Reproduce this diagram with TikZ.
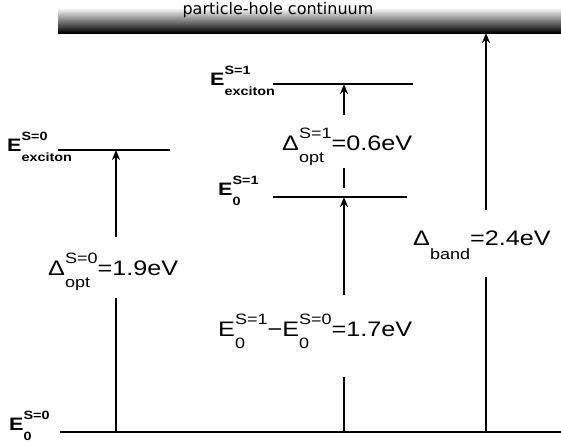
\documentclass[tikz,border=0pt]{standalone}
\usepackage{fontspec}
\setmainfont[FakeStretch=1.2]{Liberation Sans}
\newfontfamily\titfont{DejaVu Sans}
\usetikzlibrary{arrows.meta}
\newdimen\sswd
% #1 size, #2 raise, #3 lower, #4 sup, #5 sub
\newcommand\lvlss[5]{%
  \setbox0=\hbox{#1#4}\setbox2=\hbox{#1#5}%
  \sswd=\wd0 \ifdim\wd2>\sswd \sswd=\wd2 \fi
  \rlap{\raise #2\box0}\rlap{\lower #3\box2}\kern\sswd}
\newcommand\mainsz{\fontsize{21}{21}\selectfont}
\newcommand\subsz{\fontsize{15}{15}\selectfont}
\newcommand\bmainsz{\bfseries\fontsize{18}{18}\selectfont}
\newcommand\bsubsz{\bfseries\fontsize{12}{12}\selectfont}
\begin{document}
\begin{tikzpicture}[x=1pt,y=-1pt,
  lvl/.style={line width=2pt},
  seg/.style={line width=2pt},
  arr/.style={line width=2pt,-{Stealth[length=10pt,width=8pt,inset=3pt]}},
  lab/.style={inner sep=0pt, anchor=base west}]
\useasboundingbox (0,0) rectangle (561,445);
\fill[white] (0,0) rectangle (561,445);
% continuum bar
\shade[top color=black!5, middle color=black!50, bottom color=black] (58,9) rectangle (561,33);
\node[font=\titfont\fontsize{16}{16}\selectfont, inner sep=0pt, anchor=base] (title) at (278,14.5) {particle-hole continuum};
% levels
\coordinate (gL) at (60,432); \coordinate (gR) at (561,432);
\draw[lvl] (gL) -- (gR);
\coordinate (x0L) at (58,150); \coordinate (x0R) at (170,150);
\draw[lvl] (x0L) -- (x0R);
\coordinate (x1L) at (273,84); \coordinate (x1R) at (413,84);
\draw[lvl] (x1L) -- (x1R);
\coordinate (e1L) at (273,197); \coordinate (e1R) at (407,197);
\draw[lvl] (e1L) -- (e1R);
% level labels
\node[lab] (lx0) at (7,151) {\bmainsz E\lvlss{\bsubsz}{11pt}{10pt}{S=0}{exciton}};
\node[lab] (lx1) at (210,85) {\bmainsz E\lvlss{\bsubsz}{11pt}{10pt}{S=1}{exciton}};
\node[lab] (le1) at (218,195) {\bmainsz E\lvlss{\bsubsz}{11pt}{10pt}{S=1}{0}};
\node[lab] (le0) at (9,430) {\bmainsz E\lvlss{\bsubsz}{11pt}{10pt}{S=0}{0}};
% left arrow
\coordinate (a1b) at (116,432); \coordinate (a1m) at (116,298);
\coordinate (a1n) at (116,237); \coordinate (a1t) at (116,150);
\draw[seg] (a1b) -- (a1m);
\draw[arr] (a1n) -- (a1t);
\node[lab] (d0) at (48,275) {\mainsz Δ\lvlss{\subsz}{12pt}{12pt}{S=0}{opt}=1.9eV};
% middle arrows
\coordinate (a2b) at (344,432); \coordinate (a2m) at (344,377);
\coordinate (a2n) at (344,295); \coordinate (a2t) at (344,197);
\draw[seg] (a2b) -- (a2m);
\draw[arr] (a2n) -- (a2t);
\node[lab] (d01) at (218,336) {\mainsz E\lvlss{\subsz}{12pt}{12pt}{S=1}{0}−E\lvlss{\subsz}{12pt}{12pt}{S=0}{0}=1.7eV};
\coordinate (a3b) at (344,188); \coordinate (a3m) at (344,168);
\coordinate (a3n) at (344,115); \coordinate (a3t) at (344,84);
\draw[seg] (a3b) -- (a3m);
\draw[arr] (a3n) -- (a3t);
\node[lab] (d1) at (282,150) {\mainsz Δ\lvlss{\subsz}{12pt}{12pt}{S=1}{opt}=0.6eV};
% right arrow
\coordinate (a4b) at (486,432); \coordinate (a4m) at (486,277);
\coordinate (a4n) at (486,210); \coordinate (a4t) at (486,33);
\draw[seg] (a4b) -- (a4m);
\draw[arr] (a4n) -- (a4t);
\node[lab] (db) at (413,245) {\mainsz Δ\lvlss{\subsz}{12pt}{14pt}{}{band}=2.4eV};
\end{tikzpicture}
\end{document}
